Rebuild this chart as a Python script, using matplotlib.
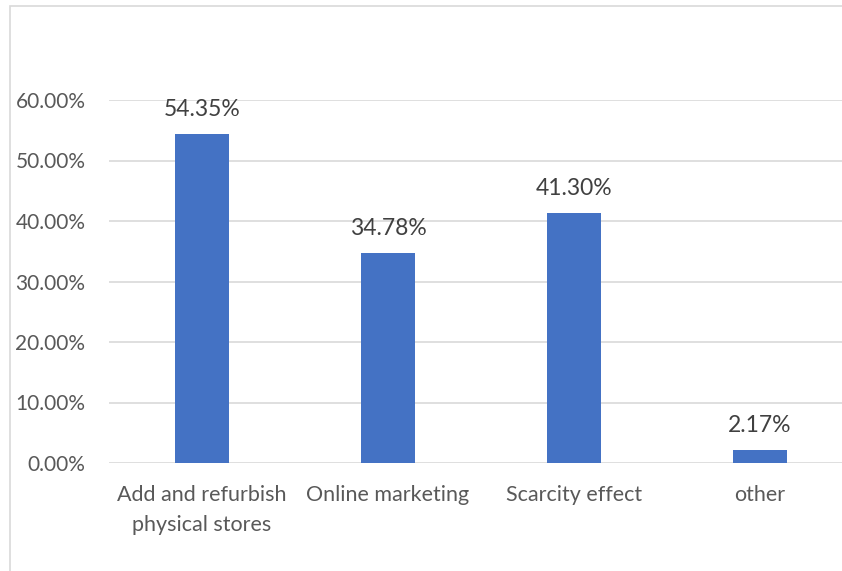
import matplotlib.pyplot as plt
from matplotlib.patches import Rectangle
from matplotlib.ticker import FuncFormatter

plt.rcParams['font.family'] = ['Lato', 'DejaVu Sans']

# ---- data ----
categories = ["Add and refurbish\nphysical stores", "Online marketing",
              "Scarcity effect", "other"]
shares = [54.35, 34.78, 41.30, 2.17]
y_ticks = [0, 10, 20, 30, 40, 50, 60]

W, H = 842, 571
fig = plt.figure(figsize=(W / 100, H / 100), dpi=100)

# chart frame (runs off the right and bottom edges)
fig.patches.append(Rectangle((10 / W, -0.1), 1.2, (H - 6) / H + 0.1,
                             transform=fig.transFigure, fill=False,
                             edgecolor="#d9d9d9", linewidth=1.2))

# axes placed in pixel terms: left 109, right 853, y=0 at 463, y=60 at 100
left, right = 109 / W, 853 / W
bottom, top = (H - 463) / H, (H - 100) / H
ax = fig.add_axes([left, bottom, right - left, top - bottom])

x = range(len(categories))
ax.bar(x, shares, width=0.285, color="#4472C4", zorder=3)
for xi, v in zip(x, shares):
    ax.annotate(f"{v:.2f}%", (xi, v), xytext=(0, 10), textcoords="offset points",
                ha="center", va="bottom", fontsize=16.5, color="#404040")

ax.set_xlim(-0.5, len(categories) - 0.5)
ax.set_ylim(0, 60)
ax.set_yticks(y_ticks)
ax.yaxis.set_major_formatter(FuncFormatter(lambda v, p: f"{v:.2f}%"))
ax.set_xticks(list(x))
ax.set_xticklabels(categories, linespacing=1.6, fontsize=15.5)

ax.grid(axis="y", color="#d9d9d9", linewidth=1.2, zorder=0)
for s in ax.spines.values():
    s.set_visible(False)
ax.tick_params(axis="both", length=0, labelcolor="#595959")
ax.tick_params(axis="y", labelsize=15, pad=17)
ax.tick_params(axis="x", pad=16)

fig.savefig("out.png", dpi=100)
